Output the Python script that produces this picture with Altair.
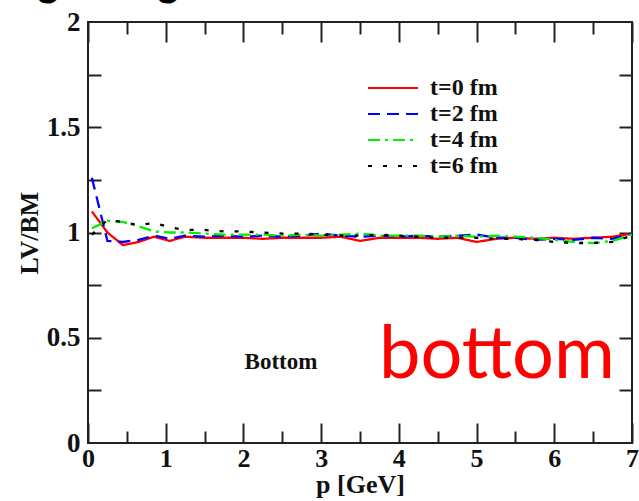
import altair as alt
import pandas as pd

# momentum grid [GeV] shared by all four curves
p_vals = [0.05, 0.25, 0.45, 0.65, 0.85, 1.05, 1.25, 1.5, 1.75, 2.0, 2.25, 2.5,
          2.75, 3.0, 3.25, 3.5, 3.75, 4.0, 4.25, 4.5, 4.75, 5.0, 5.25, 5.5,
          5.75, 6.0, 6.25, 6.5, 6.75, 7.0]

# LV/BM ratio at each evolution time
ratio_t0 = [1.10, 1.00, 0.94, 0.955, 0.98, 0.96, 0.98, 0.975, 0.975, 0.975, 0.97, 0.975,
            0.975, 0.975, 0.98, 0.96, 0.975, 0.975, 0.975, 0.97, 0.975, 0.955, 0.97, 0.975,
            0.97, 0.975, 0.97, 0.975, 0.98, 0.995]
ratio_t2 = [1.26, 0.96, 0.955, 0.965, 0.985, 0.97, 0.985, 0.98, 0.985, 0.98, 0.985, 0.98,
            0.985, 0.995, 0.985, 0.98, 0.985, 0.98, 0.985, 0.98, 0.985, 0.99, 0.975, 0.975,
            0.965, 0.97, 0.965, 0.975, 0.97, 0.995]
ratio_t4 = [1.02, 1.055, 1.05, 1.03, 1.005, 1.0, 1.0, 0.995, 0.99, 0.99, 0.99, 0.985,
            0.99, 0.985, 0.99, 0.995, 0.985, 0.985, 0.985, 0.98, 0.985, 0.98, 0.985, 0.98,
            0.975, 0.965, 0.955, 0.95, 0.96, 0.99]
ratio_t6 = [0.99, 1.06, 1.05, 1.035, 1.045, 1.025, 1.012, 1.012, 1.005, 1.005, 1.0, 0.995,
            0.995, 0.99, 0.985, 0.985, 0.99, 0.985, 0.98, 0.975, 0.975, 0.975, 0.97, 0.97,
            0.965, 0.955, 0.95, 0.95, 0.955, 0.985]

series_names = ["t=0 fm", "t=2 fm", "t=4 fm", "t=6 fm"]
series_colors = ["#ff0000", "#0000ff", "#00ee00", "#000000"]
series_dashes = [[1, 0], [12, 7], [12, 5, 3, 5], [4, 11]]

# axis ticks and labels
x_major = [0, 1, 2, 3, 4, 5, 6, 7]
x_minor = [0.5, 1.5, 2.5, 3.5, 4.5, 5.5, 6.5]
y_labels = [0, 0.5, 1, 1.5, 2]
y_all = [0.25, 0.5, 0.75, 1.0, 1.25, 1.5, 1.75]

W, H = 544, 421
SERIF = "Liberation Serif"
INK = "#111"
FRAME = "#222"

rows = []
for name, vals in zip(series_names, [ratio_t0, ratio_t2, ratio_t4, ratio_t6]):
    for p, v in zip(p_vals, vals):
        rows.append({"p": p, "ratio": v, "series": name})
curves_df = pd.DataFrame(rows)

x_scale = alt.Scale(domain=[0, 7], nice=False, zero=False)
y_scale = alt.Scale(domain=[0, 2], nice=False, zero=False)

# labelled axes (no ticks of their own)
x_label_axis = alt.Axis(orient="bottom", values=x_major, format="d", ticks=False,
                        domain=False, grid=False, labelFont=SERIF, labelFontWeight="bold",
                        labelFontSize=26, labelColor=INK, labelPadding=2, titleFont=SERIF,
                        titleFontWeight="bold", titleFontSize=26, titleColor=INK,
                        titlePadding=0, labelFlush=False)
y_label_axis = alt.Axis(orient="left", values=y_labels, format="~g", ticks=False,
                        domain=False, grid=False, labelFont=SERIF, labelFontWeight="bold",
                        labelFontSize=27, labelColor=INK, labelPadding=8, titleFont=SERIF,
                        titleFontWeight="bold", titleFontSize=26, titleColor=INK,
                        titlePadding=4, labelFlush=False)


def tick_axis(orient, values, length):
    # an unlabelled axis pulled inside the frame, so its ticks point inward
    return alt.Axis(orient=orient, values=values, offset=-length, tickSize=length,
                    tickWidth=2, tickColor=FRAME, ticks=True, labels=False,
                    domain=False, grid=False)


xt_df = pd.DataFrame({"p": x_major + x_minor})
yt_df = pd.DataFrame({"ratio": y_all})


def x_tick_layer(orient, values, length):
    return alt.Chart(xt_df).mark_point(opacity=0).encode(
        x=alt.X("p:Q", scale=x_scale, title=None, axis=tick_axis(orient, values, length)))


def y_tick_layer(orient, length):
    return alt.Chart(yt_df).mark_point(opacity=0).encode(
        y=alt.Y("ratio:Q", scale=y_scale, title=None, axis=tick_axis(orient, y_all, length)))


tick_layers = [
    x_tick_layer("bottom", x_major, 20),
    x_tick_layer("bottom", x_minor, 12),
    x_tick_layer("top", x_major, 20),
    x_tick_layer("top", x_minor, 12),
    y_tick_layer("left", 13),
    y_tick_layer("right", 13),
]

curves = alt.Chart(curves_df).mark_line(strokeWidth=2.3, clip=True, strokeCap="butt").encode(
    x=alt.X("p:Q", scale=x_scale, title="p [GeV]", axis=x_label_axis),
    y=alt.Y("ratio:Q", scale=y_scale, title="LV/BM", axis=y_label_axis),
    color=alt.Color("series:N", scale=alt.Scale(domain=series_names, range=series_colors),
                    legend=None),
    strokeDash=alt.StrokeDash("series:N",
                              scale=alt.Scale(domain=series_names, range=series_dashes),
                              legend=None),
    order=alt.Order("p:Q"),
)

# legend: one sample segment and one label per series
legend_layers = []
for i, (name, col, dash) in enumerate(zip(series_names, series_colors, series_dashes)):
    row_y = 66 + 26 * i
    one = pd.DataFrame({"label": [name]})
    legend_layers.append(
        alt.Chart(one).mark_rule(color=col, strokeDash=dash, strokeWidth=2.2,
                                 strokeCap="butt").encode(
            x=alt.value(280), x2=alt.value(330), y=alt.value(row_y)))
    legend_layers.append(
        alt.Chart(one).mark_text(font=SERIF, fontWeight="bold", fontSize=24, color=INK,
                                 align="left", baseline="middle").encode(
            text="label:N", x=alt.value(342), y=alt.value(row_y)))

note_df = pd.DataFrame({"label": ["Bottom"]})
note = alt.Chart(note_df).mark_text(font=SERIF, fontWeight="bold", fontSize=23, color=INK,
                                    align="center", baseline="alphabetic").encode(
    text="label:N", x=alt.value(193), y=alt.value(347))

big_df = pd.DataFrame({"label": ["bottom"]})
big = alt.Chart(big_df).mark_text(font="Lato", fontSize=74, color="#ff0000",
                                  align="left", baseline="alphabetic").encode(
    text="label:N", x=alt.value(291), y=alt.value(356))

# descenders of the heading line above the figure
head_df = pd.DataFrame({"label": ["g"]})
head1 = alt.Chart(head_df).mark_text(font="Lato", fontWeight="bold", fontSize=40, color="#000",
                                     align="center", baseline="alphabetic").encode(
    text="label:N", x=alt.value(-40), y=alt.value(-26))
head2 = alt.Chart(head_df).mark_text(font="Lato", fontWeight="bold", fontSize=40, color="#000",
                                     align="center", baseline="alphabetic").encode(
    text="label:N", x=alt.value(80), y=alt.value(-26))

chart = alt.layer(
    curves, *tick_layers, *legend_layers, note, big, head1, head2
).resolve_axis(
    x="independent", y="independent"
).properties(
    width=W, height=H,
    autosize=alt.AutoSizeParams(type="none"),
    padding={"left": 88, "top": 22, "right": 7, "bottom": 58},
    background="white",
).configure_view(stroke=FRAME, strokeWidth=2)

chart.save("out.html", embed_options={"renderer": "svg", "actions": False})
